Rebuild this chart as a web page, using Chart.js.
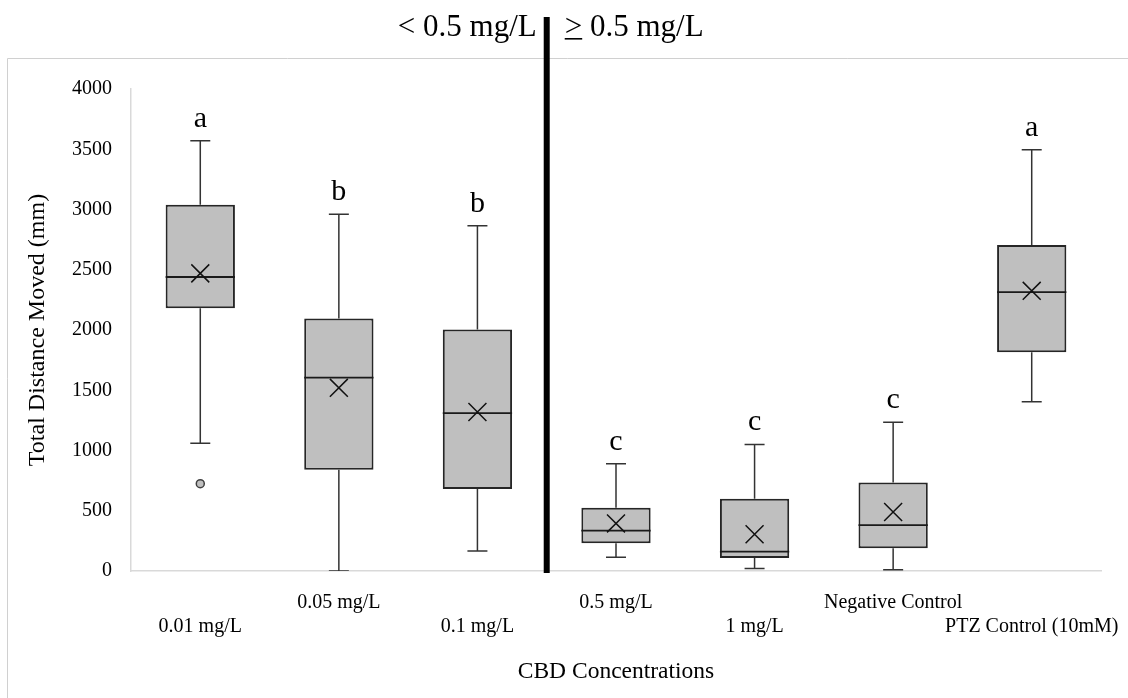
<!DOCTYPE html>
<html>
<head>
<meta charset="utf-8">
<title>Total Distance Moved by CBD Concentration</title>
<script src="https://cdn.jsdelivr.net/npm/chart.js@4.4.1/dist/chart.umd.min.js"></script>
<style>
  html, body { margin: 0; padding: 0; background: #ffffff; }
  canvas { display: block; }
</style>
</head>
<body>
<canvas id="boxChart" width="1128" height="698"></canvas>
<script>
// Groups along the x axis
const categories = ['0.01 mg/L', '0.05 mg/L', '0.1 mg/L', '0.5 mg/L', '1 mg/L', 'Negative Control', 'PTZ Control (10mM)'];

// Five-number summaries (mm)
const minValues    = [1060,    0,  165,  115,   20,   10, 1405];
const q1Values     = [2180,  840,  680,  230,  108,  188, 1815];
const medianValues = [2440, 1605, 1310,  335,  160,  380, 2315];
const q3Values     = [3040, 2095, 2005,  525,  600,  735, 2705];
const maxValues    = [3570, 2960, 2865,  890, 1050, 1235, 3495];

// Group means and outliers
const meanValues    = [2470, 1520, 1320,  395,  305,  490, 2325];
const outlierValues = [ 725, null, null, null, null, null, null];

// Significance letters
const groupLetters = ['a', 'b', 'b', 'c', 'c', 'c', 'a'];

// Y axis ticks
const yTickMin = 0;
const yTickMax = 4000;
const yTickStep = 500;

const SERIF = "'Liberation Serif', 'Times New Roman', Times, serif";

// Alternate labels between two rows
const tickLabels = categories.map((c, i) => (i % 2 === 0 ? ['', c] : [c, '']));

// Whiskers, caps and median lines for each box
const boxParts = {
  id: 'boxParts',
  afterDatasetDraw(chart, args) {
    if (args.index !== 0) return;
    const { ctx, chartArea, scales: { y } } = chart;
    ctx.save();
    ctx.beginPath();
    ctx.rect(chartArea.left, chartArea.top - 20, chartArea.right - chartArea.left, chartArea.bottom - chartArea.top + 20);
    ctx.clip();
    args.meta.data.forEach((bar, i) => {
      const x = bar.x;
      const half = bar.width / 2;
      const yMin = y.getPixelForValue(minValues[i]);
      const yMax = y.getPixelForValue(maxValues[i]);
      const yQ1 = y.getPixelForValue(q1Values[i]);
      const yQ3 = y.getPixelForValue(q3Values[i]);
      const yMed = y.getPixelForValue(medianValues[i]);
      ctx.strokeStyle = '#333333';
      ctx.lineWidth = 1.5;
      ctx.beginPath();
      ctx.moveTo(x, yQ3); ctx.lineTo(x, yMax);
      ctx.moveTo(x - 10, yMax); ctx.lineTo(x + 10, yMax);
      ctx.moveTo(x, yQ1); ctx.lineTo(x, yMin);
      ctx.moveTo(x - 10, yMin); ctx.lineTo(x + 10, yMin);
      ctx.stroke();
      ctx.strokeStyle = '#1a1a1a';
      ctx.lineWidth = 1.8;
      ctx.beginPath();
      ctx.moveTo(x - half, yMed); ctx.lineTo(x + half, yMed);
      ctx.stroke();
    });
    ctx.restore();
  }
};

// Letters above the upper whiskers
const letterLabels = {
  id: 'letterLabels',
  afterDatasetsDraw(chart) {
    const { ctx, scales: { x, y } } = chart;
    ctx.save();
    ctx.font = `30px ${SERIF}`;
    ctx.fillStyle = '#000000';
    ctx.textAlign = 'center';
    ctx.textBaseline = 'alphabetic';
    groupLetters.forEach((letter, i) => {
      ctx.fillText(letter, x.getPixelForValue(i), y.getPixelForValue(maxValues[i]) - 14);
    });
    ctx.restore();
  }
};

// Chart frame (left and top edges)
const chartFrame = {
  id: 'chartFrame',
  beforeDraw(chart) {
    const { ctx, width, height } = chart;
    ctx.save();
    ctx.fillStyle = '#ffffff';
    ctx.fillRect(0, 0, width, height);
    ctx.strokeStyle = '#d0d0d0';
    ctx.lineWidth = 1;
    ctx.beginPath();
    ctx.moveTo(7.5, height);
    ctx.lineTo(7.5, 58.5);
    ctx.lineTo(width, 58.5);
    ctx.stroke();
    ctx.restore();
  }
};

// Divider between the low and high concentration groups, with its headings
const concentrationDivider = {
  id: 'concentrationDivider',
  afterDraw(chart) {
    const { ctx, chartArea, scales: { x } } = chart;
    const sepX = (x.getPixelForValue(2) + x.getPixelForValue(3)) / 2;
    ctx.save();
    ctx.fillStyle = '#000000';
    ctx.fillRect(sepX - 3, 17, 6, chartArea.bottom + 2 - 17);
    ctx.font = `31px ${SERIF}`;
    ctx.textBaseline = 'alphabetic';
    ctx.textAlign = 'right';
    ctx.fillText('< 0.5 mg/L', sepX - 10, 36);
    ctx.textAlign = 'left';
    const startX = sepX + 18;
    ctx.fillText('> 0.5 mg/L', startX, 36);
    const gtWidth = ctx.measureText('>').width;
    ctx.fillRect(startX, 38, gtWidth, 1.6);
    ctx.restore();
  }
};

new Chart(document.getElementById('boxChart'), {
  type: 'bar',
  data: {
    labels: tickLabels,
    datasets: [
      {
        label: 'Interquartile range',
        data: q1Values.map((q1, i) => [q1, q3Values[i]]),
        backgroundColor: '#bfbfbf',
        borderColor: '#262626',
        borderWidth: 2,
        borderSkipped: false,
        barPercentage: 0.5,
        categoryPercentage: 1.0,
        order: 3
      },
      {
        type: 'line',
        label: 'Mean',
        data: meanValues,
        showLine: false,
        pointStyle: 'crossRot',
        pointRadius: 12.7,
        pointHoverRadius: 12.7,
        borderColor: '#111111',
        backgroundColor: '#111111',
        borderWidth: 1.5,
        order: 1
      },
      {
        type: 'line',
        label: 'Outlier',
        data: outlierValues,
        showLine: false,
        pointStyle: 'circle',
        pointRadius: 4,
        pointHoverRadius: 4,
        borderColor: '#404040',
        backgroundColor: '#bfbfbf',
        borderWidth: 1.5,
        order: 0
      }
    ]
  },
  options: {
    responsive: false,
    animation: false,
    devicePixelRatio: 1,
    layout: { padding: { top: 89, right: 27, left: 0, bottom: 0 } },
    plugins: {
      legend: { display: false },
      tooltip: { enabled: false }
    },
    scales: {
      x: {
        grid: { display: false, drawTicks: false },
        border: { display: true, color: '#d9d9d9', width: 1.5 },
        ticks: {
          autoSkip: false,
          maxRotation: 0,
          minRotation: 0,
          padding: 20,
          color: '#000000',
          font: { family: SERIF, size: 20, lineHeight: 1.2 }
        },
        title: {
          display: true,
          text: 'CBD Concentrations',
          color: '#000000',
          font: { family: SERIF, size: 23.5, lineHeight: 1.2 },
          padding: { top: 0, bottom: 12 }
        },
        afterFit(scale) {
          scale.height = 127;
          scale.paddingLeft = 0;
          scale.paddingRight = 0;
        }
      },
      y: {
        min: yTickMin,
        max: yTickMax,
        grid: { display: false, drawTicks: false },
        border: { display: true, color: '#d9d9d9', width: 1.5 },
        ticks: {
          stepSize: yTickStep,
          padding: 19,
          color: '#000000',
          font: { family: SERIF, size: 20 },
          callback: (value) => String(value)
        },
        title: {
          display: true,
          text: 'Total Distance Moved (mm)',
          color: '#000000',
          font: { family: SERIF, size: 24, lineHeight: 1.2 },
          padding: { top: 23.6, bottom: 0 }
        },
        afterFit(scale) {
          scale.width = 131;
        }
      }
    }
  },
  plugins: [chartFrame, boxParts, letterLabels, concentrationDivider]
});
</script>
</body>
</html>
